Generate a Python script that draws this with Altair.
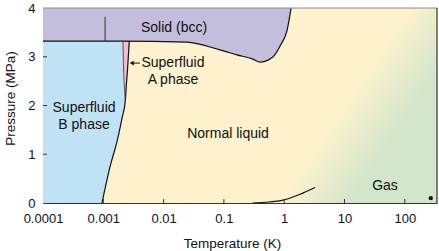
import altair as alt
import pandas as pd

# ---------------- data ----------------
# melting curve (liquid / solid boundary)
melt_T = [1e-4, 0.0019, 0.0244, 0.086, 0.165, 0.304, 0.40, 0.54, 0.70, 0.88, 1.11, 1.30]
melt_P = [3.32, 3.32, 3.30, 3.14, 3.04, 2.95, 2.89, 2.93, 3.04, 3.25, 3.53, 4.0]

# superfluid transition line Tc(P)
tc_P = [0.0, 0.74, 1.29, 1.77, 2.10, 2.42, 2.73, 3.32]
tc_T = [0.000951, 0.00129, 0.00171, 0.00207, 0.00232, 0.00241, 0.00252, 0.00270]

# A-B transition line (A phase lies between this and Tc)
ab_P = [2.10, 2.42, 2.73, 3.32]
ab_T = [0.00232, 0.00223, 0.00217, 0.00212]
ab_Tc = [0.00232, 0.00241, 0.00252, 0.00270]

# line inside the solid
solid_line_T = [0.00107, 0.00107]
solid_line_P = [3.32, 3.82]

# liquid-gas coexistence curve
vap_T = [0.30, 0.55, 0.955, 1.83, 3.24]
vap_P = [0.0, 0.02, 0.06, 0.18, 0.32]

# room-temperature point
dot_T = [270.0]
dot_P = [0.1]

# labels
lab_text = ["Solid (bcc)", "Superfluid", "A phase", "Superfluid", "B phase", "Normal liquid", "Gas"]
lab_T = [0.0149, 0.0143, 0.0143, 0.000479, 0.000479, 0.117, 47.0]
lab_P = [3.59, 2.87, 2.52, 1.95, 1.60, 1.415, 0.35]

# arrow to the A phase
arrow_T = [0.00296, 0.00406]
arrow_P = [2.87, 2.87]

# axes
x_ticks = [0.0001, 0.001, 0.01, 0.1, 1, 10, 100]
y_ticks = [0, 1, 2, 3, 4]
T_MIN, T_MAX = 1e-4, 342.0
P_MIN, P_MAX = 0.0, 4.0

# ---------------- styling ----------------
PURPLE = "#c2bedb"
BLUE = "#bfe3f5"
PINK = "#f3bcd0"
YELLOW = "#fdf2cd"
GREEN = "#d3e5cb"
FONT = "Liberation Sans"

XSC = alt.Scale(type="log", domain=[T_MIN, T_MAX], nice=False)
YSC = alt.Scale(domain=[P_MIN, P_MAX], nice=False)
XAX = alt.Axis(values=x_ticks, format="~g", tickSize=0, labelPadding=9, labelFlush=False,
               grid=False, domainColor="#333", titleX=189, titleY=40, titleBaseline="middle")
YAX = alt.Axis(values=y_ticks, tickSize=0, labelPadding=8, labelFlush=False, grid=False,
               domainColor="#333", titleX=-33, titleY=90, titleBaseline="middle")


def X(field="T"):
    return alt.X(f"{field}:Q", scale=XSC, axis=XAX, title="Temperature (K)", stack=None)


def Y(field="P"):
    return alt.Y(f"{field}:Q", scale=YSC, axis=YAX, title="Pressure (MPa)", stack=None)


melt_df = pd.DataFrame({"T": melt_T, "P": melt_P, "top": P_MAX})
tc_df = pd.DataFrame({"T": tc_T, "P": tc_P, "T0": T_MIN})
ab_df = pd.DataFrame({"T": ab_T, "P": ab_P, "Tc": ab_Tc})
bg_df = pd.DataFrame({"T": [T_MIN], "T2": [T_MAX], "P": [P_MIN], "P2": [P_MAX]})
sl_df = pd.DataFrame({"T": solid_line_T, "P": solid_line_P})
vap_df = pd.DataFrame({"T": vap_T, "P": vap_P})
dot_df = pd.DataFrame({"T": dot_T, "P": dot_P})
lab_df = pd.DataFrame({"T": lab_T, "P": lab_P, "text": lab_text})
arr_df = pd.DataFrame({"T": [arrow_T[0]], "T2": [arrow_T[1]], "P": [arrow_P[0]]})
xt_df = pd.DataFrame({"T": x_ticks[1:], "P": P_MIN, "P2": P_MIN + 4 / 48.75})
yt_df = pd.DataFrame({"T": T_MIN, "T2": T_MIN * 10 ** (4 / 60.3), "P": y_ticks[1:-1]})

grad = alt.LinearGradient(
    gradient="linear",
    stops=[alt.GradientStop(color=YELLOW, offset=0),
           alt.GradientStop(color=YELLOW, offset=0.80),
           alt.GradientStop(color=GREEN, offset=0.96),
           alt.GradientStop(color=GREEN, offset=1)],
    x1=0, y1=0, x2=1.045, y2=0.345)

bg = alt.Chart(bg_df).mark_rect(color=grad).encode(x=X(), x2="T2:Q", y=Y(), y2="P2:Q")

solid = alt.Chart(melt_df).mark_area(color=PURPLE, interpolate="monotone").encode(
    x=X(), y=Y(), y2="top:Q")
blue = alt.Chart(tc_df).mark_area(color=BLUE, orient="horizontal", interpolate="monotone").encode(
    y=Y(), x=X(), x2="T0:Q")
pink = alt.Chart(ab_df).mark_area(color=PINK, orient="horizontal", interpolate="monotone").encode(
    y=Y(), x=X(), x2="Tc:Q")

melt_line = alt.Chart(melt_df).mark_line(color="#111", strokeWidth=1.2, interpolate="monotone").encode(
    x=X(), y=Y())
tc_line = alt.Chart(tc_df).mark_line(color="#111", strokeWidth=1.2, interpolate="monotone",
                                     orient="horizontal").encode(x=X(), y=Y(), order="P:Q")
ab_line = alt.Chart(ab_df).mark_line(color="#333", strokeWidth=0.8, interpolate="monotone",
                                     orient="horizontal").encode(x=X(), y=Y(), order="P:Q")
sl_line = alt.Chart(sl_df).mark_line(color="#333", strokeWidth=1).encode(x=X(), y=Y())
vap_line = alt.Chart(vap_df).mark_line(color="#111", strokeWidth=1.2, interpolate="monotone").encode(
    x=X(), y=Y())

top_border = alt.Chart(bg_df).mark_rule(color="#8a8a8a", strokeWidth=1).encode(
    x=X(), x2="T2:Q", y="P2:Q")
right_border = alt.Chart(bg_df).mark_rule(color="#111", strokeWidth=1).encode(
    x="T2:Q", y=Y(), y2="P2:Q")

xticks = alt.Chart(xt_df).mark_rule(color="#333").encode(x=X(), y=Y(), y2="P2:Q")
yticks = alt.Chart(yt_df).mark_rule(color="#333").encode(x=X(), x2="T2:Q", y=Y())

labels = alt.Chart(lab_df).mark_text(font=FONT, fontSize=14, color="#111", align="center",
                                     baseline="middle").encode(x=X(), y=Y(), text="text:N")
arrow = alt.Chart(arr_df).mark_rule(color="#111", strokeWidth=1).encode(x=X(), x2="T2:Q", y=Y())
arrow_head = alt.Chart(arr_df).mark_point(shape="triangle-left", filled=True, size=22, color="#111",
                                          opacity=1).encode(x=X(), y=Y())
dot = alt.Chart(dot_df).mark_point(shape="circle", filled=True, size=18, color="#111",
                                   opacity=1).encode(x=X(), y=Y())

chart = alt.layer(
    bg, solid, blue, pink, melt_line, tc_line, ab_line, sl_line, vap_line,
    top_border, right_border, xticks, yticks, labels, arrow, arrow_head, dot
).properties(
    width=394, height=195,
    autosize=alt.AutoSizeParams(type="none"),
    padding={"left": 43, "top": 8, "right": 2, "bottom": 48},
).configure(
    font=FONT,
).configure_view(
    stroke=None,
).configure_axis(
    labelFont=FONT, titleFont=FONT, labelFontSize=13, titleFontSize=13.5,
    labelColor="#111", titleColor="#111", titleFontWeight="normal",
)

chart.save("out.html", embed_options={"renderer": "svg", "actions": False})
